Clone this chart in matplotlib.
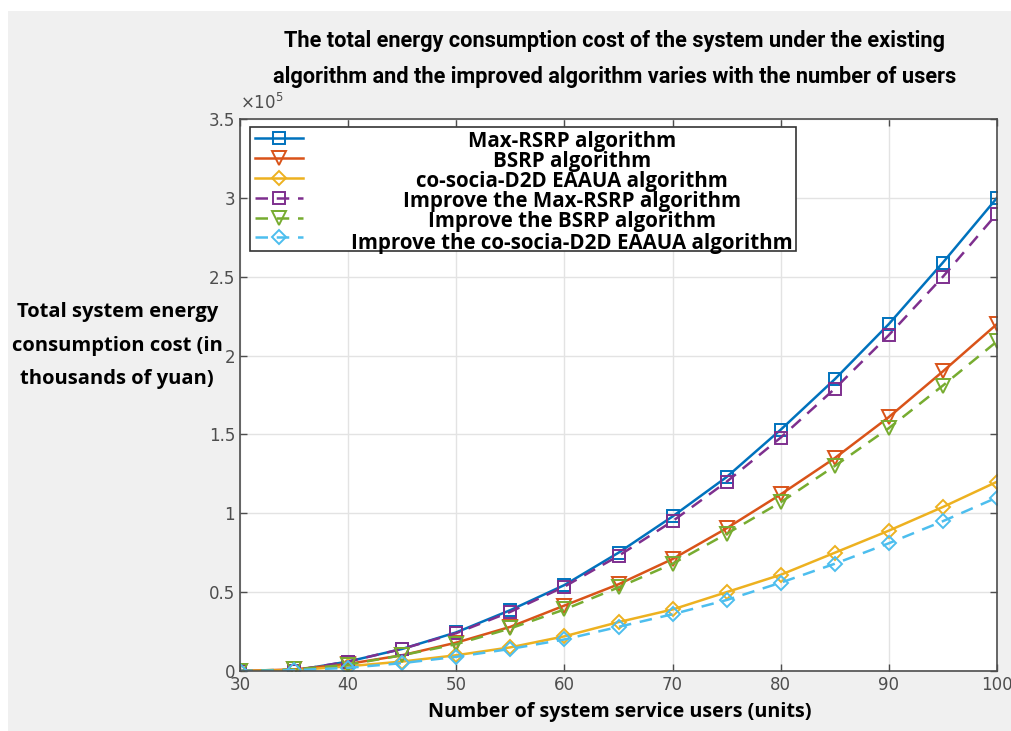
import numpy as np
import matplotlib
matplotlib.use("Agg")
import matplotlib.pyplot as plt
from matplotlib.patches import Rectangle
from matplotlib.ticker import FuncFormatter

# ---------------------------------------------------------------------------
# data (y in units of 1e5)
users = [30, 35, 40, 45, 50, 55, 60, 65, 70, 75, 80, 85, 90, 95, 100]

max_rsrp = [0, 0.003, 0.06, 0.14, 0.245, 0.386, 0.545, 0.75, 0.98, 1.23, 1.53, 1.85, 2.2, 2.59, 3.0]
bsrp = [0, 0.01, 0.045, 0.10, 0.18, 0.28, 0.415, 0.55, 0.71, 0.905, 1.12, 1.35, 1.61, 1.9, 2.2]
cosocia = [0, 0.005, 0.03, 0.06, 0.10, 0.15, 0.22, 0.31, 0.39, 0.50, 0.61, 0.75, 0.89, 1.04, 1.2]
imp_max_rsrp = [0, 0.003, 0.06, 0.14, 0.24, 0.375, 0.535, 0.73, 0.95, 1.2, 1.48, 1.79, 2.13, 2.5, 2.9]
imp_bsrp = [0, 0.01, 0.04, 0.10, 0.17, 0.27, 0.39, 0.53, 0.68, 0.87, 1.07, 1.3, 1.54, 1.81, 2.09]
imp_cosocia = [0, 0.005, 0.02, 0.05, 0.09, 0.14, 0.20, 0.28, 0.36, 0.45, 0.56, 0.68, 0.81, 0.95, 1.1]

labels = ["Max-RSRP algorithm",
          "BSRP algorithm",
          "co-socia-D2D EAAUA algorithm",
          "Improve the Max-RSRP algorithm",
          "Improve the BSRP algorithm",
          "Improve the co-socia-D2D EAAUA algorithm"]

title_txt = ("The total energy consumption cost of the system under the existing\n"
             "algorithm and the improved algorithm varies with the number of users")
ylabel_txt = "Total system energy\nconsumption cost (in\nthousands of yuan)"
xlabel_txt = "Number of system service users (units)"

# ---------------------------------------------------------------------------
series = [max_rsrp, bsrp, cosocia, imp_max_rsrp, imp_bsrp, imp_cosocia]
colors = ["#0072BD", "#D95319", "#EDB120", "#7E2F8E", "#77AC30", "#4DBEEE"]
markers = ["s", "v", "D", "s", "v", "D"]
msizes = [8.5, 10.5, 7.5, 8.5, 10.5, 7.5]
styles = ["-", "-", "-", "--", "--", "--"]

fig = plt.figure(figsize=(10.11, 7.31), dpi=100)
fig.patch.set_facecolor("white")
fig.patches.append(Rectangle((0.008, 0.0), 0.992, 0.985, transform=fig.transFigure,
                             facecolor="#f0f0f0", edgecolor="none", zorder=-10))

ax = fig.add_axes([240 / 1011, 1 - 671 / 731, 757 / 1011, 552 / 731])
ax.set_facecolor("white")

handles = []
for s, c, m, ms, ls in zip(series, colors, markers, msizes, styles):
    h, = ax.plot(users, np.array(s) * 1e5, linestyle=ls, color=c, marker=m,
                 markersize=ms, markerfacecolor="none", markeredgewidth=1.4,
                 linewidth=1.8, dashes=(5, 3.5) if ls == "--" else (None, None))
    handles.append(h)

ax.set_xlim(30, 100)
ax.set_ylim(0, 3.5e5)
ax.set_xticks(np.arange(30, 101, 10))
ax.set_yticks(np.arange(0, 3.51e5, 0.5e5))
ax.yaxis.set_major_formatter(FuncFormatter(lambda v, p: "%g" % (v / 1e5)))
ax.text(0.0, 1.01, r"$\times10^5$", transform=ax.transAxes, ha="left", va="bottom",
        fontsize=12, color="#4d4d4d")
ax.grid(True, color="#e3e3e3", linewidth=1)
ax.set_axisbelow(True)
ax.tick_params(direction="in", top=True, right=True, length=5, colors="#4d4d4d",
               labelsize=12, labelcolor="#4d4d4d", width=1)
for sp in ax.spines.values():
    sp.set_color("#4d4d4d")
    sp.set_linewidth(1.2)

# legend with centred labels
leg = ax.legend(handles, [""] * 6, loc="upper left", bbox_to_anchor=(0.013, 0.985, 0.721, 0.0),
                mode="expand", handlelength=3.0, labelspacing=0.3, borderpad=0.3,
                handletextpad=0.2, borderaxespad=0.0,
                fancybox=False, edgecolor="#333333", framealpha=1, fontsize=11.5)
leg.get_frame().set_linewidth(1.2)
label_y = [142, 161, 182, 201, 222, 244]
for lab, yy in zip(labels, label_y):
    ax.text(0.4386, (671 - yy) / 552, lab, transform=ax.transAxes, ha="center", va="center",
            fontsize=14.8, fontweight="bold", family=["Open Sans", "DejaVu Sans"], zorder=10)

fig.text(0.608, 0.919, title_txt, ha="center", va="center", fontsize=15.7, fontweight="bold",
         family=["Roboto", "DejaVu Sans"], linespacing=1.85)
fig.text(0.116, 0.527, ylabel_txt, ha="center", va="center", fontsize=14.5, fontweight="bold",
         family=["Open Sans", "DejaVu Sans"], linespacing=1.9)
fig.text(0.613, 0.026, xlabel_txt, ha="center", va="center", fontsize=14.2, fontweight="bold",
         family=["Open Sans", "DejaVu Sans"])

fig.savefig("out.png", dpi=100, facecolor=fig.get_facecolor())
